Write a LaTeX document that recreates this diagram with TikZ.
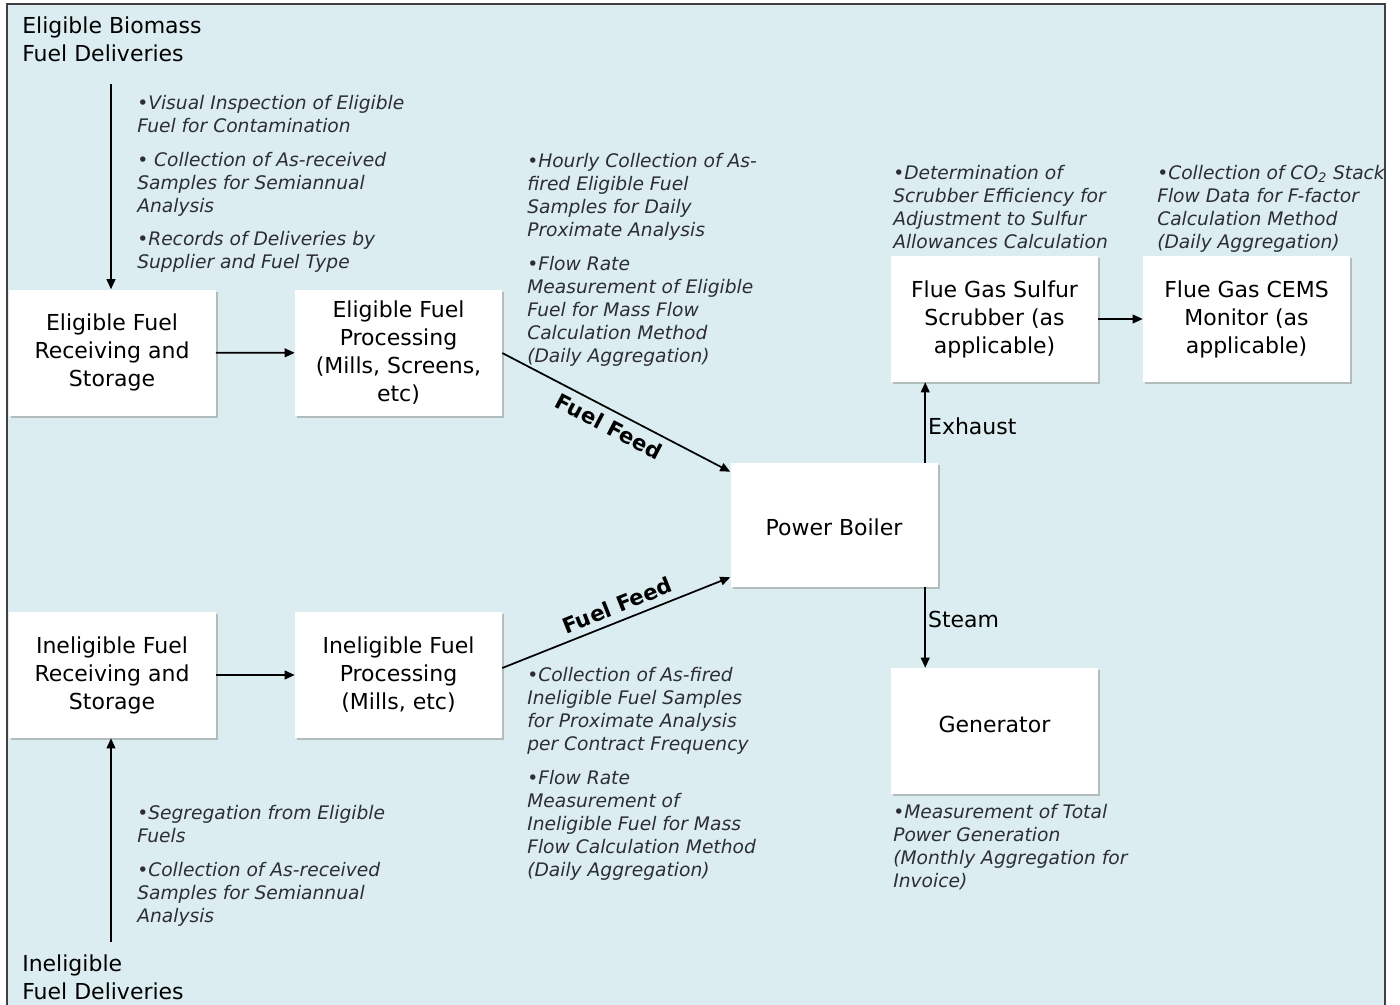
\documentclass[tikz,border=0pt]{standalone}
\usepackage{fontspec}
\setmainfont{DejaVu Sans}
\usetikzlibrary{calc,shadows,arrows.meta}
\definecolor{panelblue}{RGB}{219,237,240}
\definecolor{notegray}{RGB}{45,45,55}
\tikzset{
  box/.style={fill=white, drop shadow={shadow xshift=1.8pt, shadow yshift=-1.8pt, fill=black!45, opacity=0.5},
    minimum width=155.25pt, minimum height=94.5pt, inner sep=0pt, align=center,
    font=\fontsize{16.5}{21}\selectfont},
  note/.style={anchor=north west, inner sep=0pt, align=left, text=notegray,
    font=\fontsize{14}{17.25}\selectfont\itshape},
  title/.style={anchor=north west, inner sep=0pt, align=left, font=\fontsize{16.5}{21}\selectfont},
  flow/.style={line width=1.3pt, -{Triangle[length=7.5pt,width=6.5pt]}},
  feed/.style={sloped, inner sep=5pt, font=\fontsize{16}{19}\selectfont\bfseries},
  side/.style={right, inner sep=1.5pt, font=\fontsize{16.5}{21}\selectfont}
}

\begin{document}
\begin{tikzpicture}[x=0.75pt, y=-0.75pt]
			%%%%% START %%%%%
			\useasboundingbox (0, 0) rectangle (1400, 1004);
			\draw[fill=panelblue, line width=1pt, color=black!75] (7, 4) rectangle (1385, 1020);
			\fill[panelblue] (8, 5) rectangle (1384, 1019);
			
			% deliveries
			\node[title] (ebtitle) at (22, 17) {Eligible Biomass\\Fuel Deliveries};
			\node[title] (ibtitle) at (22, 955) {Ineligible\\Fuel Deliveries};
			\coordinate (ebtop) at (111, 84);
			\coordinate (ibbot) at (111, 942);
			
			% boxes
			\node[box] (efr) at (112, 352.5) {Eligible Fuel\\Receiving and\\Storage};
			\node[box] (efp) at (398.5, 353) {Eligible Fuel\\Processing\\(Mills, Screens,\\etc)};
			\node[box] (ifr) at (112, 675) {Ineligible Fuel\\Receiving and\\Storage};
			\node[box] (ifp) at (398.5, 675) {Ineligible Fuel\\Processing\\(Mills, etc)};
			\node[box, minimum height=93pt, text height=16.5pt] (pb) at (834, 525) {Power Boiler};
			\node[box] (fgs) at (994.5, 319) {Flue Gas Sulfur\\Scrubber (as\\applicable)};
			\node[box] (cems) at (1246.5, 319) {Flue Gas CEMS\\Monitor (as\\applicable)};
			\node[box, text depth=10pt] (gen) at (994.5, 731) {Generator};
			
			% connectors
			\draw[flow] (ebtop) -- (ebtop |- efr.north);
			\draw[flow] (ibbot) -- (ibbot |- ifr.south);
			\draw[flow] (efr) -- (efp);
			\draw[flow] (ifr) -- (ifp);
			\draw[flow] (efp.east) -- ($(pb.north west)+(0, 9)$) node[feed, below, pos=0.5] {Fuel Feed};
			\draw[flow] ($(ifp.east)+(0, -7)$) -- ($(pb.south west)+(0, -10)$) node[feed, above, pos=0.53] {Fuel Feed};
			\coordinate (exh) at ($(pb.north west)+(195, 0)$);
			\draw[flow] (exh) -- (exh |- fgs.south) node[side, pos=0.45] {Exhaust};
			\coordinate (stm) at ($(pb.south west)+(195, 0)$);
			\draw[flow] (stm) -- (stm |- gen.north) node[side, pos=0.4] {Steam};
			\draw[flow] (fgs) -- (cems);
			
			% notes
			\node[note] (n1) at (137, 95) {•Visual Inspection of Eligible\\Fuel for Contamination\\[8pt]• Collection of As-received\\Samples for Semiannual\\Analysis\\[8pt]•Records of Deliveries by\\Supplier and Fuel Type};
			\node[note] (n2) at (527, 153) {•Hourly Collection of As-\\fired Eligible Fuel\\Samples for Daily\\Proximate Analysis\\[8pt]•Flow Rate\\Measurement of Eligible\\Fuel for Mass Flow\\Calculation Method\\(Daily Aggregation)};
			\node[note] (n3) at (893, 165) {•Determination of\\Scrubber Efficiency for\\Adjustment to Sulfur\\Allowances Calculation};
			\node[note] (n4) at (1157, 165) {•Collection of CO\textsubscript{2} Stack\\Flow Data for F-factor\\Calculation Method\\(Daily Aggregation)};
			\node[note] (n5) at (527, 667) {•Collection of As-fired\\Ineligible Fuel Samples\\for Proximate Analysis\\per Contract Frequency\\[8pt]•Flow Rate\\Measurement of\\Ineligible Fuel for Mass\\Flow Calculation Method\\(Daily Aggregation)};
			\node[note] (n6) at (137, 805) {•Segregation from Eligible\\Fuels\\[8pt]•Collection of As-received\\Samples for Semiannual\\Analysis};
			\node[note] (n7) at (893, 804) {•Measurement of Total\\Power Generation\\(Monthly Aggregation for\\Invoice)};
			%%%%% END %%%%%
\end{tikzpicture}
\end{document}
